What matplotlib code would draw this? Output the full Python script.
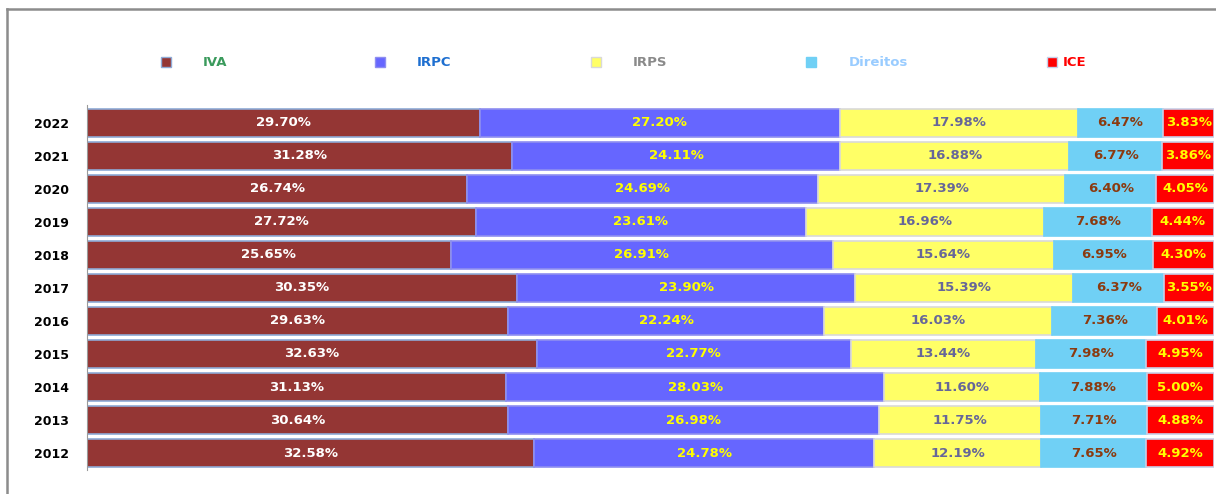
import numpy as np
import matplotlib.pyplot as plt
from matplotlib.patches import Rectangle
from matplotlib.lines import Line2D

years = ["2012", "2013", "2014", "2015", "2016", "2017", "2018", "2019", "2020", "2021", "2022"]
iva = [32.58, 30.64, 31.13, 32.63, 29.63, 30.35, 25.65, 27.72, 26.74, 31.28, 29.70]
irpc = [24.78, 26.98, 28.03, 22.77, 22.24, 23.90, 26.91, 23.61, 24.69, 24.11, 27.20]
irps = [12.19, 11.75, 11.60, 13.44, 16.03, 15.39, 15.64, 16.96, 17.39, 16.88, 17.98]
direitos = [7.65, 7.71, 7.88, 7.98, 7.36, 6.37, 6.95, 7.68, 6.40, 6.77, 6.47]
ice = [4.92, 4.88, 5.00, 4.95, 4.01, 3.55, 4.30, 4.44, 4.05, 3.86, 3.83]

names = ["IVA", "IRPC", "IRPS", "Direitos", "ICE"]
series = [iva, irpc, irps, direitos, ice]
colors = ["#943634", "#6666ff", "#ffff66", "#70d0f5", "#ff0000"]
edges = ["#8eaad6", "#8e8ef0", "#d9d9d9", "#70d0f5", "#c8d0e8"]
label_colors = ["white", "#ffff00", "#666699", "#8b3a0f", "#ffff00"]
legend_colors = ["#3a9a5c", "#1e6fd0", "#8a8a8a", "#99ccff", "#ff0000"]

data = np.array(series)
share = data / data.sum(axis=0) * 100

fig = plt.figure(figsize=(12.16, 4.94), dpi=100)
W, H = 1216, 494

# outer frame
fig.add_artist(Line2D([7 / W, 7 / W], [0, 1 - 9 / H], color="#8c8c8c", lw=1.8))
fig.add_artist(Line2D([7 / W, 1], [1 - 9 / H, 1 - 9 / H], color="#8c8c8c", lw=1.8))

ax = fig.add_axes([87 / W, 24 / H, 1127 / W, 365 / H])
y = np.arange(len(years))
left = np.zeros(len(years))
for i in range(len(series)):
    ax.barh(y, share[i], left=left, height=0.82, color=colors[i],
            edgecolor=edges[i], linewidth=1.2)
    for j in range(len(years)):
        ax.text(left[j] + share[i][j] / 2, y[j], "%.2f%%" % series[i][j],
                ha="center", va="center", color=label_colors[i],
                fontsize=9.5, fontweight="bold")
    left += share[i]

ax.set_xlim(0, 100)
ax.set_ylim(-0.515, 10.545)
ax.set_yticks(y)
ax.set_yticklabels(years, fontsize=9, fontweight="bold")
ax.tick_params(axis="y", length=0, pad=13)
ax.set_xticks([])
for s in ["top", "right", "bottom"]:
    ax.spines[s].set_visible(False)
ax.spines["left"].set_color("#9a9a9a")

# legend
mark_x = [161, 375, 591, 806, 1047]
text_x = [203, 417, 633, 849, 1063]
ly = 1 - 62 / H
for i in range(len(names)):
    fig.add_artist(Rectangle((mark_x[i] / W, ly - 5 / H), 10 / W, 10 / H,
                             facecolor=colors[i], edgecolor=edges[i], lw=1,
                             transform=fig.transFigure))
    fig.text(text_x[i] / W, ly, names[i], color=legend_colors[i],
             fontsize=9.5, fontweight="bold", va="center", ha="left")

fig.savefig("out.png", dpi=100)
